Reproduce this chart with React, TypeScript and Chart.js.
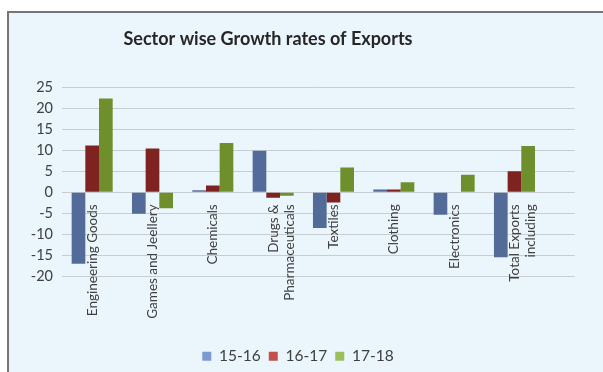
import React, { useEffect, useRef } from 'react';
import { Chart, registerables } from 'chart.js';

Chart.register(...registerables);

const chartTitle = 'Sector wise Growth rates of Exports';
const categories: (string | string[])[] = [
  'Engineering Goods',
  'Games and Jeellery',
  'Chemicals',
  ['Drugs &', 'Pharmaceuticals'],
  'Textiles',
  'Clothing',
  'Electronics',
  ['Total Exports', 'including'],
];
const seriesNames = ['15-16', '16-17', '17-18'];
const growth1516 = [-17.0, -5.1, 0.5, 9.9, -8.5, 0.7, -5.3, -15.4];
const growth1617 = [11.1, 10.4, 1.6, -1.3, -2.4, 0.7, 0, 5.0];
const growth1718 = [22.3, -3.8, 11.7, -0.8, 5.9, 2.4, 4.2, 11.0];
const yMin = -20;
const yMax = 25;
const yStep = 5;

const barColors = ['#536b98', '#7e2320', '#6e8f2c'];
const legendColors = ['#7d99cf', '#c4504d', '#9dbf5b'];

const FONT = 'Lato, "Open Sans", sans-serif';

export default function App() {
  const canvasRef = useRef<HTMLCanvasElement | null>(null);

  useEffect(() => {
    const canvas = canvasRef.current;
    if (!canvas) return;
    const series = [growth1516, growth1617, growth1718];
    const titleShift = {
      id: 'titleShift',
      afterLayout(chart: any) {
        const t = chart.titleBlock;
        if (t) {
          t.left -= 30;
          t.right -= 30;
        }
      },
    };
    const chart = new Chart(canvas, {
      type: 'bar',
      data: {
        datasets: series.map((vals, si) => ({
          label: seriesNames[si],
          data: vals.map((v, i) => ({ x: i, y: v })),
          backgroundColor: barColors[si],
          borderWidth: 0,
          xAxisID: 'x',
          yAxisID: 'y',
          categoryPercentage: 0.68,
          barPercentage: 1,
        })),
      },
      options: {
        responsive: false,
        animation: false,
        devicePixelRatio: 1,
        layout: { padding: { left: 0, right: 17, top: 0, bottom: 0 } },
        scales: {
          x: {
            type: 'linear',
            position: { y: 0 } as any,
            offset: false,
            min: -0.5,
            max: 8,
            grid: { display: false, drawTicks: false, offset: false },
            border: { display: false },
            ticks: {
              stepSize: 1,
              includeBounds: false,
              autoSkip: false,
              minRotation: 90,
              maxRotation: 90,
              padding: 12,
              color: '#404040',
              font: { family: FONT, size: 13.5 },
              callback: (v: any) => {
                const c = categories[Number(v)];
                return c === undefined ? '' : c;
              },
            },
          },
          x2: {
            type: 'linear',
            position: 'bottom',
            display: true,
            offset: false,
            grid: { display: false, drawTicks: false },
            border: { display: false },
            ticks: { display: false },
            afterFit: (s: any) => {
              s.height = 64;
            },
          },
          y: {
            type: 'linear',
            min: yMin,
            max: yMax,
            grid: { color: '#c8cdd2', lineWidth: 1, drawTicks: false },
            border: { display: false },
            ticks: {
              stepSize: yStep,
              padding: 9,
              color: '#404040',
              font: { family: FONT, size: 14.5 },
            },
            afterFit: (s: any) => {
              s.width = 52;
            },
          },
        },
        plugins: {
          title: {
            display: true,
            text: chartTitle,
            color: '#262626',
            font: { family: FONT, size: 18, weight: 'bold' },
            padding: { top: 15, bottom: 37.5 },
          },
          legend: {
            display: true,
            position: 'bottom',
            labels: {
              color: '#404040',
              font: { family: FONT, size: 15.5 },
              boxWidth: 9,
              boxHeight: 9,
              padding: 8,
              generateLabels: () =>
                seriesNames.map((n, i) => ({
                  text: n,
                  fillStyle: legendColors[i],
                  strokeStyle: legendColors[i],
                  lineWidth: 0,
                  hidden: false,
                  datasetIndex: i,
                  fontColor: '#404040',
                })),
            },
          },
          tooltip: { enabled: false },
        },
      },
      plugins: [titleShift],
    });
    return () => chart.destroy();
  }, []);

  return (
    <div
      style={{
        position: 'absolute',
        left: 7,
        top: 11,
        width: 620,
        height: 380,
        background: '#eaf5fc',
        borderTop: '2px solid #767676',
        borderLeft: '2px solid #767676',
        overflow: 'hidden',
      }}
    >
      <canvas
        ref={canvasRef}
        width={593}
        height={361}
        style={{ display: 'block', marginLeft: 1, width: 593, height: 361 }}
      />
    </div>
  );
}
